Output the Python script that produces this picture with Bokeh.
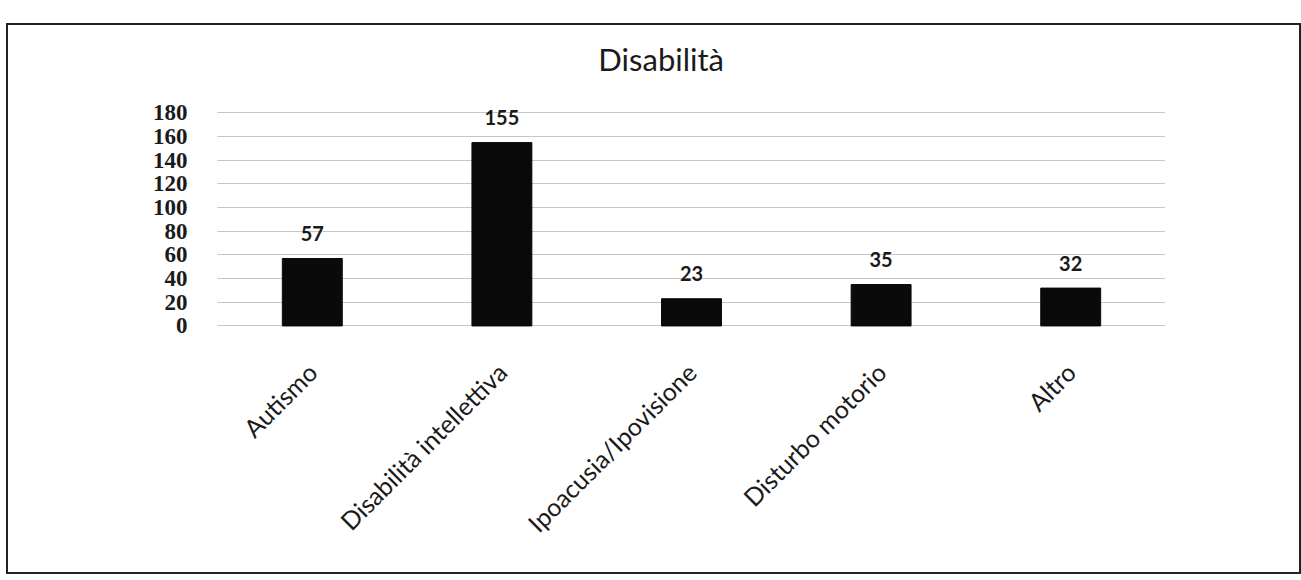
import math
from bokeh.plotting import figure
from bokeh.models import ColumnDataSource, FixedTicker, Range1d, Label
from bokeh.core.properties import value
from bokeh.embed import file_html
from bokeh.resources import INLINE

categories = ["Autismo", "Disabilità intellettiva", "Ipoacusia/Ipovisione", "Disturbo motorio", "Altro"]
values = [57, 155, 23, 35, 32]
y_ticks = [0, 20, 40, 60, 80, 100, 120, 140, 160, 180]
title_text = "Disabilità"

src = ColumnDataSource(dict(cat=categories, val=values, lab=[str(v) for v in values]))

# frame extends up to hold the title; gridlines/ticks stop at 180
p = figure(x_range=categories, y_range=Range1d(-3, 245.5),
           width=1291, height=547, output_backend="svg", toolbar_location=None,
           min_border_left=209, min_border_right=134, min_border_top=10, min_border_bottom=243,
           margin=(25, 0, 0, 8))
p.styles = {"outline": "2px solid #222222"}

p.add_layout(Label(x=2.34, y=226, text=title_text, text_align="center", text_baseline="middle",
                   text_font="Lato", text_font_size="31px", text_color="#1a1a1a"))

p.vbar(x="cat", top="val", width=0.316, source=src, fill_color="#0a0a0a", line_color="#0a0a0a")
p.text(x="cat", y="val", text="lab", source=src, y_offset=-25, text_align="center",
       text_baseline="middle", text_font=value("Lato"), text_font_size="20px",
       text_font_style="bold", text_color="#1a1a1a")

p.outline_line_color = None
p.xgrid.grid_line_color = None
p.ygrid.grid_line_color = "#8c8c8c"
p.ygrid.grid_line_dash = "1 1"
p.ygrid.grid_line_width = 1

p.yaxis.ticker = FixedTicker(ticks=y_ticks)
p.yaxis.axis_line_color = None
p.yaxis.major_tick_line_color = None
p.yaxis.minor_tick_line_color = None
p.yaxis.major_label_standoff = 24
p.yaxis.major_label_text_font = "Liberation Serif"
p.yaxis.major_label_text_font_style = "bold"
p.yaxis.major_label_text_font_size = "23px"
p.yaxis.major_label_text_color = "#1a1a1a"

p.xaxis.axis_line_color = None
p.xaxis.major_tick_line_color = None
p.xaxis.major_label_orientation = math.pi / 4
p.xaxis.major_label_standoff = 32
p.xaxis.major_label_text_font = "Lato"
p.xaxis.major_label_text_font_size = "25px"
p.xaxis.major_label_text_color = "#1a1a1a"

open("out.html", "w").write(file_html(p, INLINE))
